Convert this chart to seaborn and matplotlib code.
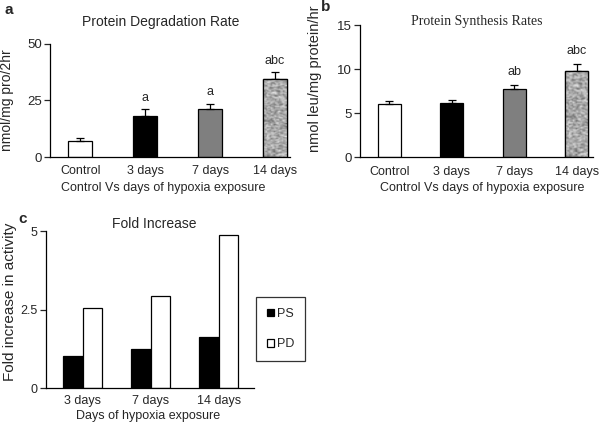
import numpy as np
import pandas as pd
import matplotlib
matplotlib.use("Agg")
import matplotlib.pyplot as plt
from matplotlib.patches import Rectangle
from numpy.lib.stride_tricks import sliding_window_view
import seaborn as sns

# ---- data ----
groups = ["Control", "3 days", "7 days", "14 days"]
pd_rate = [7.1, 18.0, 21.0, 34.4]
pd_err = [1.3, 3.0, 2.5, 3.0]
pd_sig = ["", "a", "a", "abc"]

ps_rate = [6.04, 6.19, 7.74, 9.78]
ps_err = [0.38, 0.34, 0.49, 0.80]
ps_sig = ["", "", "ab", "abc"]

fold_days = ["3 days", "7 days", "14 days"]
fold_ps = [1.03, 1.25, 1.62]
fold_pd = [2.55, 2.94, 4.89]

sns.set_theme(style="white")
plt.rcParams["font.family"] = ["Liberation Sans", "DejaVu Sans"]
plt.rcParams["axes.linewidth"] = 0.9

fig = plt.figure(figsize=(6.09, 4.24), dpi=100)

bar_colors = ["white", "black", "#7f7f7f", "#a9a9a9"]


def texture(ax, patch, seed):
    rng = np.random.default_rng(seed)
    n = rng.random((90, 18))
    n = sliding_window_view(np.pad(n, ((0, 1), (0, 1)), mode="edge"), (2, 2)).mean(axis=(2, 3))
    x0, y0 = patch.get_x(), patch.get_y()
    w, h = patch.get_width(), patch.get_height()
    im = ax.imshow(n, cmap="gray", vmin=-0.6, vmax=1.05, extent=(x0, x0 + w, y0, y0 + h),
                   aspect="auto", interpolation="bilinear", zorder=patch.get_zorder() + 0.1)
    im.set_clip_path(patch)
    ax.add_patch(Rectangle((x0, y0), w, h, fill=False, edgecolor="black", lw=0.9,
                           zorder=patch.get_zorder() + 0.2))


def rate_panel(ax, vals, errs, sigs, ylim, yticks, xl):
    df = pd.DataFrame({"group": groups, "value": vals})
    sns.barplot(data=df, x="group", y="value", hue="group", palette=bar_colors,
                order=groups, hue_order=groups, width=0.37, edgecolor="black",
                linewidth=0.9, legend=False, ax=ax, errorbar=None)
    xs = np.arange(len(groups))
    ax.errorbar(xs, vals, yerr=[np.zeros(len(errs)), errs], fmt="none",
                ecolor="black", elinewidth=0.9, capsize=3, capthick=0.9, zorder=1)
    for i, s in enumerate(sigs):
        if s:
            ax.text(xs[i], vals[i] + errs[i] + ylim[1] * 0.05, s, ha="center",
                    va="bottom", fontsize=9)
    texture(ax, ax.patches[3], 7)
    ax.set_ylim(*ylim)
    ax.set_yticks(yticks)
    ax.set_xlim(*xl)
    sns.despine(ax=ax)
    ax.tick_params(axis="y", left=True, length=4, width=0.9, labelsize=9.5, pad=2)
    ax.tick_params(axis="x", bottom=False, length=0, labelsize=9, pad=6)
    for sp in ax.spines.values():
        sp.set_color("black")


# panel a
ax_a = fig.add_axes([0.0821, 0.6297, 0.394, 0.267])
rate_panel(ax_a, pd_rate, pd_err, pd_sig, (0, 50), [0, 25, 50], (-0.47, 3.23))
ax_a.set_ylabel("nmol/mg pro/2hr", fontsize=10)
ax_a.yaxis.set_label_coords(-0.148, 0.5)
ax_a.set_xlabel("Control Vs days of hypoxia exposure", fontsize=9)
ax_a.xaxis.set_label_coords(0.47, -0.22)
ax_a.set_title("Protein Degradation Rate", fontsize=10, x=0.4625, pad=13)

# panel b
ax_b = fig.add_axes([0.591, 0.629, 0.383, 0.312])
rate_panel(ax_b, ps_rate, ps_err, ps_sig, (0, 15), [0, 5, 10, 15], (-0.47, 3.26))
ax_b.set_ylabel("nmol leu/mg protein/hr", fontsize=10.5)
ax_b.yaxis.set_label_coords(-0.163, 0.592)
ax_b.set_xlabel("Control Vs days of hypoxia exposure", fontsize=9)
ax_b.xaxis.set_label_coords(0.524, -0.187)
ax_b.set_title("Protein Synthesis Rates", fontsize=10, pad=0,
               family=["Liberation Serif"])

# panel c
ax_c = fig.add_axes([0.0755, 0.0842, 0.3415, 0.3708])
dfc = pd.DataFrame({"days": fold_days * 2,
                    "value": fold_ps + fold_pd,
                    "type": ["PS"] * 3 + ["PD"] * 3})
sns.barplot(data=dfc, x="days", y="value", hue="type", hue_order=["PS", "PD"],
            palette={"PS": "black", "PD": "white"}, width=0.574, gap=0,
            edgecolor="black", linewidth=0.9, errorbar=None, ax=ax_c)
ax_c.set_ylim(0, 5)
ax_c.set_yticks([0, 2.5, 5])
ax_c.set_yticklabels(["0", "2.5", "5"])
ax_c.set_xlim(-0.544, 2.515)
ax_c.set_ylabel("Fold increase in activity", fontsize=11)
ax_c.yaxis.set_label_coords(-0.14, 0.55)
ax_c.set_xlabel("Days of hypoxia exposure", fontsize=9)
ax_c.xaxis.set_label_coords(0.49, -0.135)
ax_c.set_title("Fold Increase", fontsize=10, pad=2, x=0.52)
sns.despine(ax=ax_c)
ax_c.tick_params(axis="y", left=True, length=4, width=0.9, labelsize=9, pad=2)
ax_c.tick_params(axis="x", bottom=False, length=0, labelsize=9, pad=4.5)
for sp in ax_c.spines.values():
    sp.set_color("black")
leg = ax_c.legend(loc="upper left", bbox_to_anchor=(1.01, 0.58), frameon=True,
                  fancybox=False, edgecolor="black", fontsize=9, handlelength=0.55,
                  handleheight=0.55, handletextpad=0.25, labelspacing=1.5,
                  borderpad=0.85, borderaxespad=0)
leg.get_frame().set_linewidth(0.9)

fig.text(0.008, 0.993, "a", fontsize=11, fontweight="bold", va="top")
fig.text(0.527, 1.0, "b", fontsize=11, fontweight="bold", va="top")
fig.text(0.03, 0.5, "c", fontsize=11, fontweight="bold", va="top")

fig.savefig("out.png", dpi=100)
